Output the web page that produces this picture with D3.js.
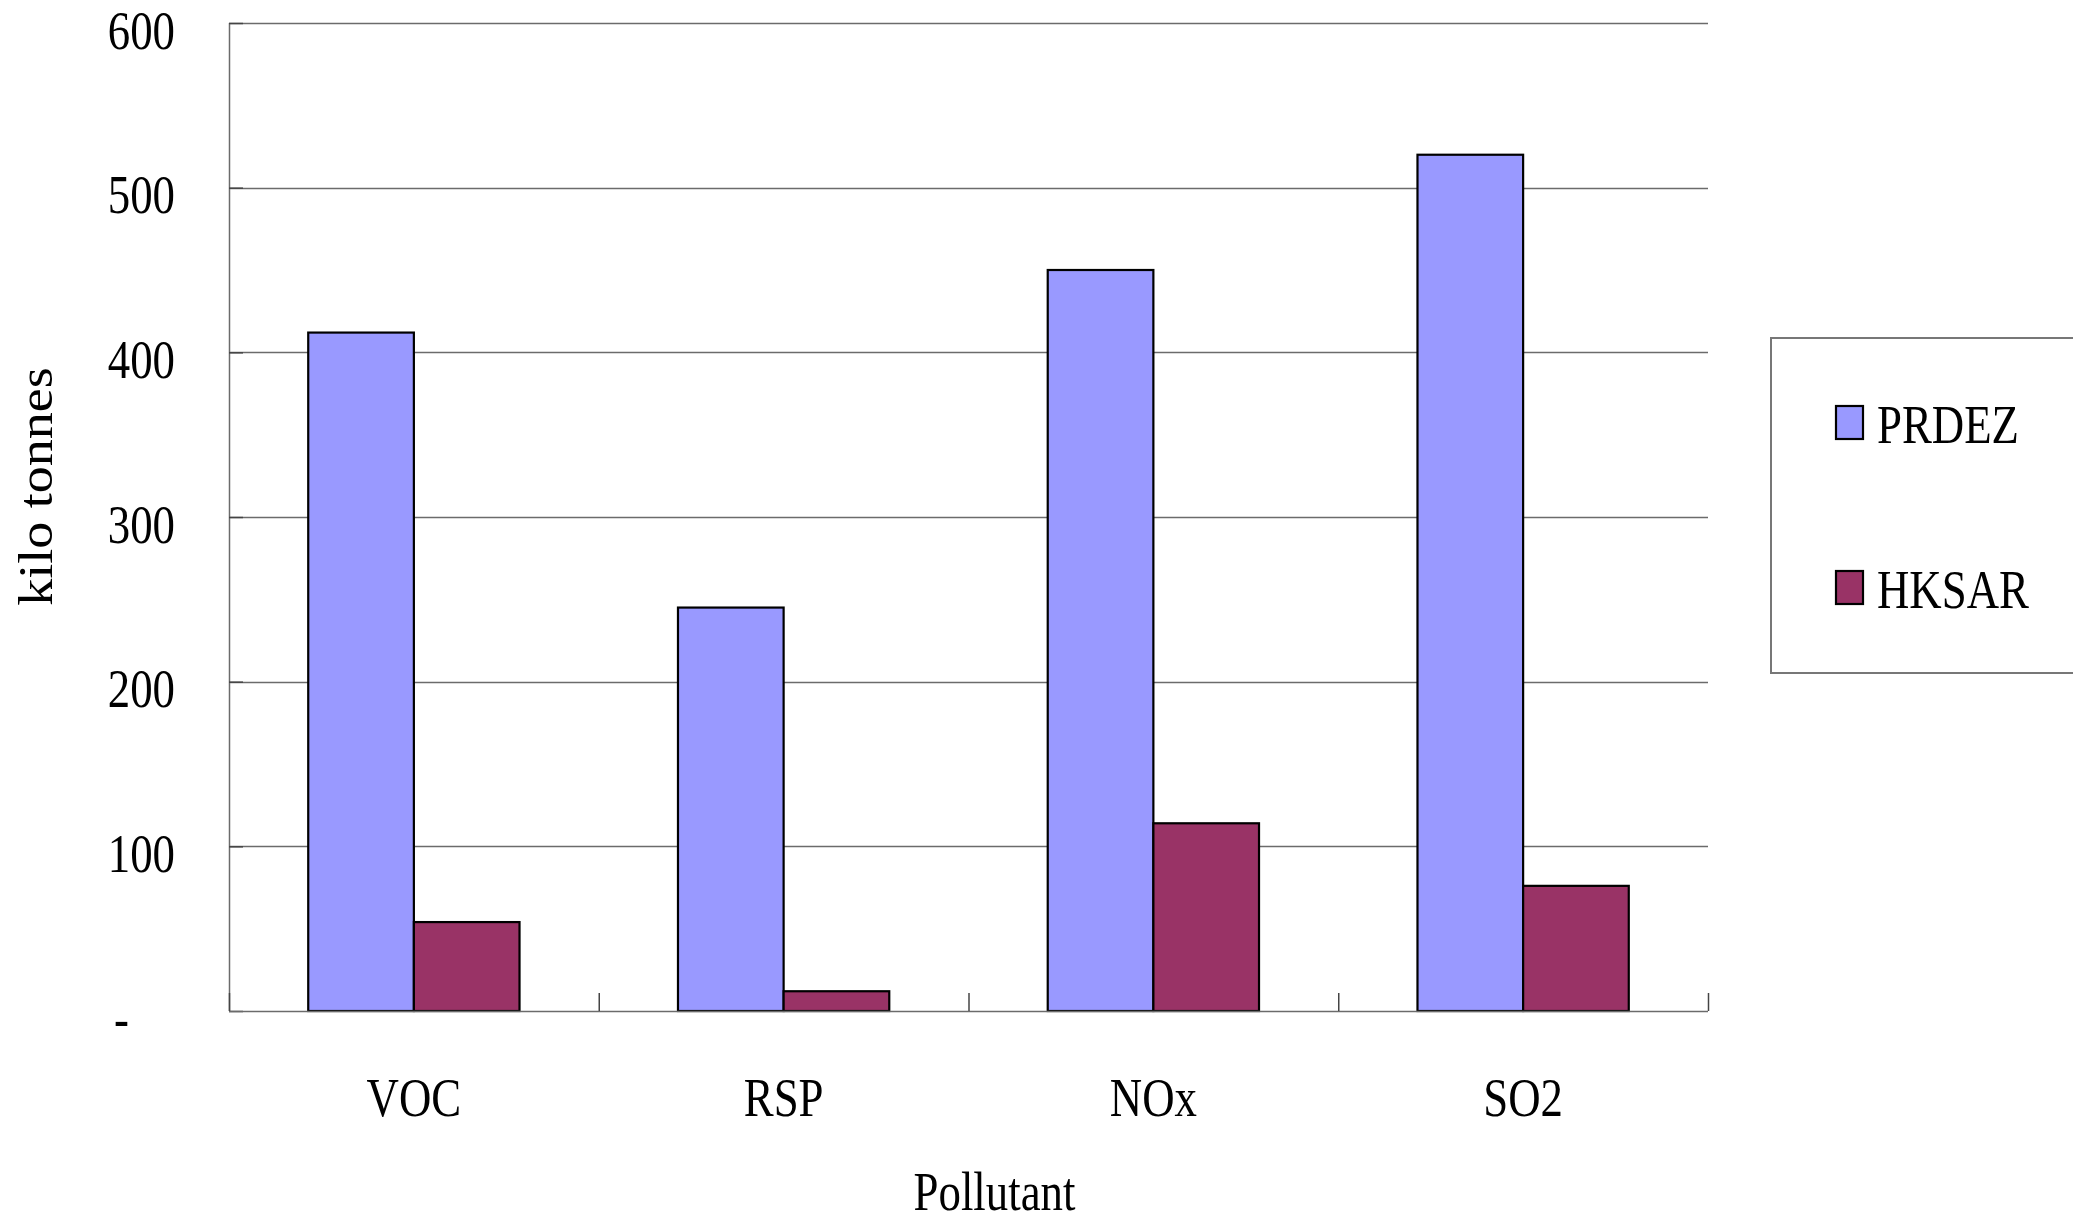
<!DOCTYPE html>
<html>
<head>
<meta charset="utf-8">
<script src="https://cdn.jsdelivr.net/npm/d3@7"></script>
<style>
  html, body { margin: 0; padding: 0; background: #fff; }
  svg { display: block; }
  text { font-family: "Liberation Serif", "Times New Roman", serif; fill: #000; }
</style>
</head>
<body>
<svg id="chart" width="2073" height="1223"></svg>
<script>
// Emissions by pollutant (kilo tonnes)
const categories = ["VOC", "RSP", "NOx", "SO2"];
const seriesNames = ["PRDEZ", "HKSAR"];
const prdezValues = [412, 245, 450, 520];
const hksarValues = [54, 12, 114, 76];
const yTicks = [0, 100, 200, 300, 400, 500, 600];
const yTickLabels = ["-", "100", "200", "300", "400", "500", "600"];
const seriesColors = ["#9999FF", "#993366"];

const svg = d3.select("#chart");
const plot = { left: 229, right: 1708, top: 23, bottom: 1011 };
const fontSize = 54;
const sx = 0.83; // horizontal squeeze of the text glyphs

const x0 = d3.scaleBand().domain(categories).range([plot.left, plot.right]).paddingInner(0).paddingOuter(0);
const x1 = d3.scaleBand().domain(seriesNames).range([0, x0.bandwidth()]).paddingInner(0).paddingOuter(0.75);
const y = d3.scaleLinear().domain([0, 600]).range([plot.bottom, plot.top]);

const rows = categories.map((c, i) => ({ cat: c, values: [prdezValues[i], hksarValues[i]] }));

// gridlines
svg.append("g").selectAll("line").data(yTicks.filter(t => t > 0)).join("line")
  .attr("x1", plot.left).attr("x2", plot.right)
  .attr("y1", d => Math.round(y(d)) + 0.5).attr("y2", d => Math.round(y(d)) + 0.5)
  .attr("stroke", "#6b6b6b").attr("stroke-width", 1.3);

// y axis line with inward ticks
const yAxis = d3.axisRight(y).tickValues(yTicks).tickSize(14).tickFormat("");
const gy = svg.append("g").attr("transform", `translate(${plot.left},0)`).call(yAxis);
gy.select(".domain").attr("stroke", "#6b6b6b").attr("stroke-width", 1.5).attr("d", `M0.5,${plot.top}V${plot.bottom}`);
gy.selectAll(".tick line").attr("stroke", "#444").attr("stroke-width", 1.5);

// y tick labels
svg.append("g").selectAll("text").data(yTicks).join("text")
  .attr("transform", (d, i) => `translate(${yTickLabels[i] === "-" ? 129 : 175},${y(d) + 25.5}) scale(${sx},1)`)
  .attr("text-anchor", "end")
  .style("font-size", fontSize + "px")
  .text((d, i) => yTickLabels[i]);

// bars
const groups = svg.append("g").selectAll("g").data(rows).join("g")
  .attr("transform", d => `translate(${x0(d.cat)},0)`);
groups.selectAll("rect").data(d => d.values.map((v, j) => ({ name: seriesNames[j], v, j }))).join("rect")
  .attr("x", d => x1(d.name))
  .attr("width", x1.bandwidth())
  .attr("y", d => y(d.v))
  .attr("height", d => plot.bottom - y(d.v))
  .attr("fill", d => seriesColors[d.j])
  .attr("stroke", "#000").attr("stroke-width", 2.2);

// x axis line with category-boundary ticks
const boundaries = categories.map(c => x0(c)).concat([plot.right]);
svg.append("line")
  .attr("x1", plot.left).attr("x2", plot.right)
  .attr("y1", plot.bottom + 0.5).attr("y2", plot.bottom + 0.5)
  .attr("stroke", "#6b6b6b").attr("stroke-width", 1.5);
svg.append("g").selectAll("line").data(boundaries).join("line")
  .attr("x1", d => d + 0.5).attr("x2", d => d + 0.5)
  .attr("y1", plot.bottom).attr("y2", plot.bottom - 18)
  .attr("stroke", "#444").attr("stroke-width", 1.5);

// category labels
svg.append("g").selectAll("text").data(categories).join("text")
  .attr("transform", d => `translate(${x0(d) + x0.bandwidth() / 2},1115.5) scale(${sx},1)`)
  .attr("text-anchor", "middle")
  .style("font-size", fontSize + "px")
  .text(d => d);

// axis titles
svg.append("text")
  .attr("transform", `translate(994.5,1210) scale(${sx},1)`)
  .attr("text-anchor", "middle")
  .style("font-size", fontSize + "px")
  .text("Pollutant");
svg.append("text")
  .attr("transform", `translate(52,486.5) scale(0.9,1) rotate(-90)`)
  .attr("text-anchor", "middle")
  .style("font-size", fontSize + "px")
  .text("kilo tonnes");

// legend
const legend = svg.append("g");
legend.append("rect")
  .attr("x", 1771).attr("y", 338).attr("width", 340).attr("height", 335)
  .attr("fill", "#fff").attr("stroke", "#777").attr("stroke-width", 2);
const legendRows = [
  { name: seriesNames[0], color: seriesColors[0], top: 406 },
  { name: seriesNames[1], color: seriesColors[1], top: 571 }
];
const items = legend.selectAll("g.item").data(legendRows).join("g").attr("class", "item");
items.append("rect")
  .attr("x", 1836).attr("y", d => d.top).attr("width", 27).attr("height", 33)
  .attr("fill", d => d.color).attr("stroke", "#000").attr("stroke-width", 2.2);
items.append("text")
  .attr("transform", d => `translate(1877,${d.top + 37}) scale(${sx},1)`)
  .style("font-size", fontSize + "px")
  .text(d => d.name);
</script>
</body>
</html>
